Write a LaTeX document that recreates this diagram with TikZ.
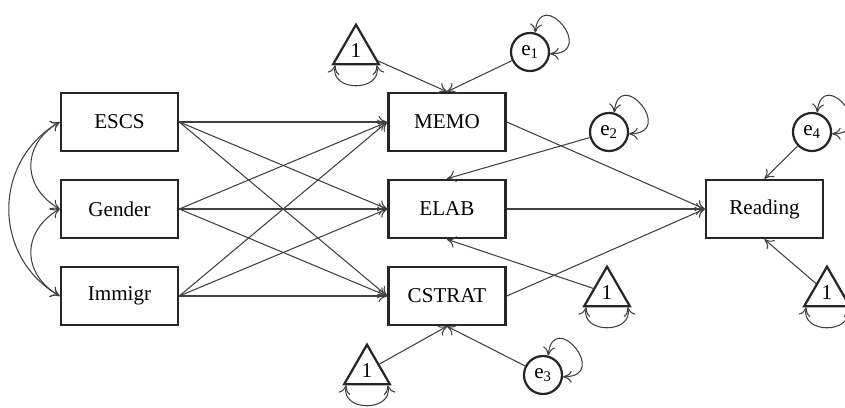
\documentclass[tikz,border=0pt]{standalone}
\usepackage{fontspec}
\setmainfont{Liberation Serif}
\usetikzlibrary{arrows.meta,shapes.geometric,calc}

\begin{document}
\begin{tikzpicture}[x=0.03cm, y=0.03cm,
    every node/.style={font=\fontsize{18}{21}\selectfont},
    var/.style={draw=black!85, line width=2.2pt, minimum width=3.51cm, minimum height=1.74cm, inner sep=0pt},
    err/.style={draw=black!85, line width=1.9pt, circle, minimum size=1.14cm, inner sep=0pt},
    const/.style={draw=black!85, line width=1.9pt, regular polygon, regular polygon sides=3, minimum size=1.58cm, inner sep=0pt},
    path/.style={draw=black!75, line width=0.9pt, -{To[length=2.6mm,width=3.6mm]}},
    dbl/.style={draw=black!75, line width=0.9pt, {To[length=2.6mm,width=3.6mm]}-{To[length=2.6mm,width=3.6mm]}}]
        \useasboundingbox (0,0) rectangle (845,407);
        % Exogenous variables
        \node[var] (escs) at (119.5,285) {ESCS};
        \node[var] (gender) at (119.5,198) {Gender};
        \node[var] (immigr) at (119.5,111) {Immigr};
        % Mediators
        \node[var] (memo) at (447,285) {MEMO};
        \node[var] (elab) at (447,198) {ELAB};
        \node[var] (cstrat) at (447,111) {CSTRAT};
        % Outcome
        \node[var] (reading) at (764.5,198) {Reading};
        
        % Residuals
        \node[err] (e1) at (530,355) {e\textsubscript{1}};
        \node[err] (e2) at (609,275) {e\textsubscript{2}};
        \node[err] (e3) at (543,32) {e\textsubscript{3}};
        \node[err] (e4) at (812,275) {e\textsubscript{4}};
        % Intercepts
        \node[const] (one1) at (356,356) {1};
        \node[const] (one2) at (607,114) {1};
        \node[const] (one3) at (827,114) {1};
        \node[const] (one4) at (367,36) {1};
        
        % Covariances between exogenous variables
        \draw[dbl] (escs.west) to[out=210, in=150, looseness=1.3] (gender.west);
        \draw[dbl] (gender.west) to[out=210, in=150, looseness=1.3] (immigr.west);
        \draw[dbl] (escs.west) to[out=210, in=150, looseness=1.15] (immigr.west);
        
        % Paths to mediators
        \foreach \src in {escs, gender, immigr}
            \foreach \dst in {memo, elab, cstrat}
                \draw[path] (\src.east) -- (\dst.west);
        % Paths to outcome
        \foreach \src in {memo, elab, cstrat}
            \draw[path] (\src.east) -- (reading.west);
        
        % Residual and intercept paths
        \draw[path] (e1) -- (memo.north);
        \draw[path] (one1) -- (memo.north);
        \draw[path] (e2) -- (elab.north);
        \draw[path] (one2) -- (elab.south);
        \draw[path] (e3) -- (cstrat.south);
        \draw[path] (one4) -- (cstrat.south);
        \draw[path] (e4) -- (reading.north);
        \draw[path] (one3) -- (reading.south);
        
        % Residual variances
        \foreach \e in {e1, e2, e3, e4}
            \draw[dbl] (\e.75) .. controls +(5,48) and +(48,0) .. (\e.-5);
        % Intercept variances
        \foreach \c in {one1, one2, one3, one4}
            \draw[dbl] ($(\c.corner 2)+(4,0)$) .. controls +(-6,-27) and +(6,-27) .. ($(\c.corner 3)+(-4,0)$);
\end{tikzpicture}
\end{document}
